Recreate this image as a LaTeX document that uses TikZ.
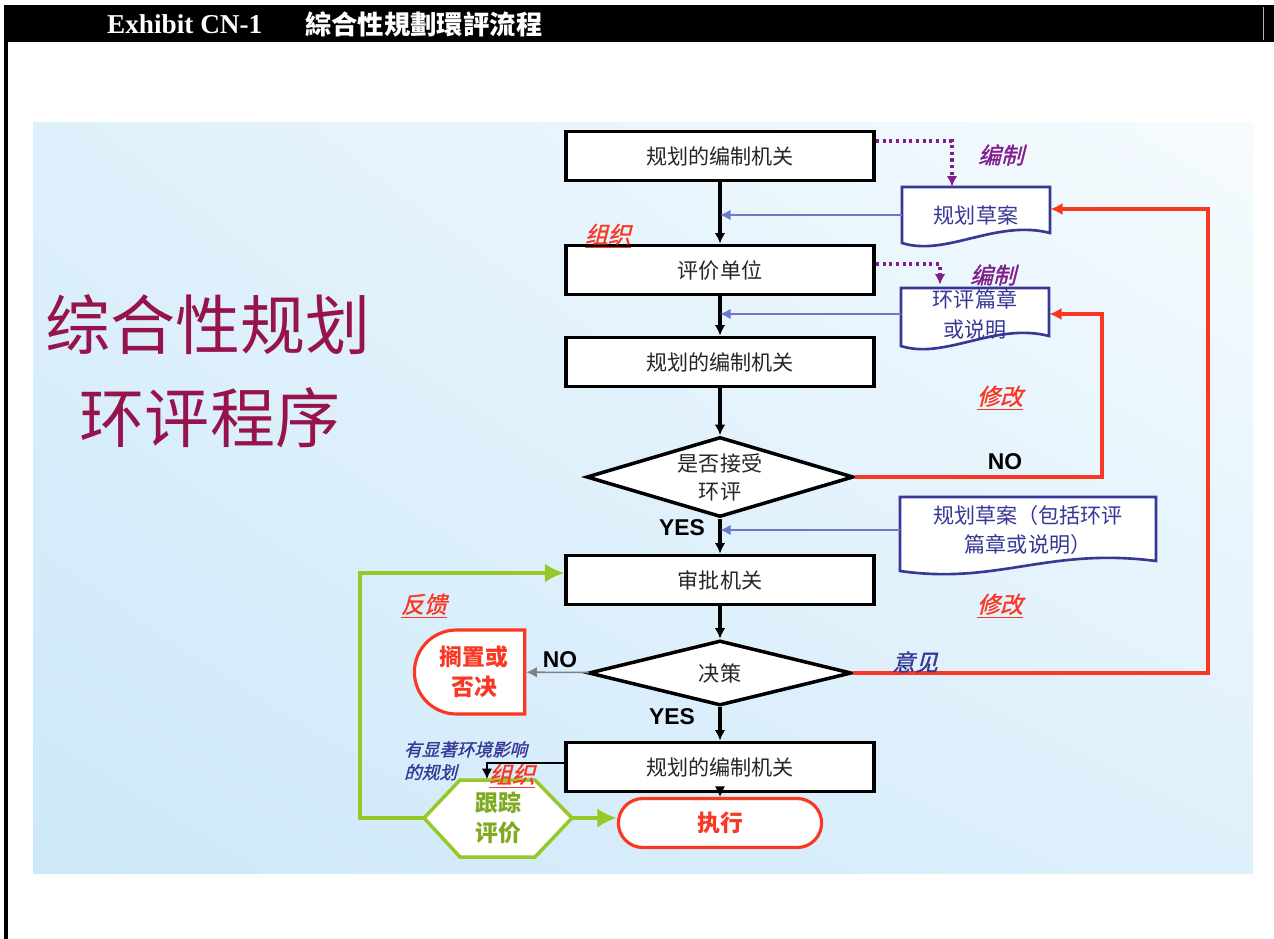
\documentclass[tikz,border=0pt]{standalone}
\usepackage{fontspec}
\setmainfont{Liberation Sans}
\newfontfamily\headfont{Liberation Serif}
\newfontfamily\cjk{Noto Sans CJK SC}
\newfontfamily\cjktrad{Noto Sans CJK TC}
\newfontfamily\cjkslant[FakeSlant=0.25,FakeBold=1.2]{Noto Sans CJK SC}
\usetikzlibrary{shapes.geometric,shapes.misc,arrows.meta,calc,shadings}

\definecolor{titlered}{RGB}{150,20,75}
\definecolor{docblue}{RGB}{55,55,150}
\definecolor{feedblue}{RGB}{110,120,200}
\definecolor{editred}{RGB}{250,55,35}
\definecolor{trackgreen}{RGB}{150,200,40}
\definecolor{draftpurple}{RGB}{130,30,140}
\definecolor{bgblue}{RGB}{205,232,249}
\definecolor{bgmid}{RGB}{222,240,251}
\definecolor{bgpale}{RGB}{246,251,254}

% centre x, centre y, half width, half height
\newcommand\wavydoc[4]{%
  \filldraw[docblue,fill=white,line width=1.5pt]
    (#1-#3,#2-#4) -- (#1+#3,#2-#4) -- (#1+#3,#2+#4-10)
    .. controls (#1+20,#2+#4-24) and (#1-30,#2+#4+14) .. (#1-#3,#2+#4) -- cycle;}

\begin{document}
\begin{tikzpicture}[x=0.02cm,y=-0.02cm,
    box/.style={draw,line width=2.2pt,fill=white,minimum width=6.16cm,minimum height=0.98cm,
      text=black!85,font=\cjk\fontsize{12}{14}\selectfont},
    choice/.style={diamond,draw,line width=2pt,fill=white,inner sep=0pt,align=center,
      text=black!85,font=\cjk\fontsize{12}{16}\selectfont},
    paper/.style={inner sep=0pt,align=center,text=docblue,font=\cjk\fontsize{12}{17}\selectfont},
    flow/.style={-{Latex[length=6pt,width=6pt]},line width=2pt},
    feed/.style={-{Latex[length=6pt,width=6pt]},feedblue,line width=1.1pt},
    drafting/.style={-{Latex[length=6pt,width=6pt]},draftpurple,line width=1.8pt,dotted},
    redo/.style={-{Latex[length=7pt,width=7pt]},editred,line width=2pt},
    backfeed/.style={-{Latex[length=11pt,width=11pt]},trackgreen,line width=2.4pt},
    note/.style={font=\cjkslant\fontsize{13}{15}\selectfont},
    answer/.style={font=\bfseries\fontsize{13}{15}\selectfont}]
  \useasboundingbox (0,0) rectangle (1274,939);

  % header
  \fill (4,5) rectangle (1274,42);
  \draw[gray!60] (1263,7) -- (1263,40);
  \draw[line width=2.2pt] (6,42) -- (6,939);
  \node[anchor=west,text=white,font=\headfont\bfseries\fontsize{15.5}{17}\selectfont] (exhibit) at (101,24) {Exhibit CN-1};
  \node[anchor=west,text=white,font=\cjktrad\bfseries\fontsize{15}{17}\selectfont] (headline) at (299,24) {綜合性規劃環評流程};

  \shade[upper left=bgmid,lower left=bgblue,upper right=bgpale,lower right=bgmid] (33,123) rectangle (1253,873);

  \node[text=titlered,font=\cjk\fontsize{37}{40}\selectfont] (title1) at (208,325) {综合性规划};
  \node[text=titlered,font=\cjk\fontsize{37}{40}\selectfont] (title2) at (210,418) {环评程序};

  % main column
  \node[box] (planner) at (720,156) {规划的编制机关};
  \node[box] (assessor) at (720,270) {评价单位};
  \node[box] (planner2) at (720,362) {规划的编制机关};
  \node[choice,minimum width=5.34cm,minimum height=1.6cm,aspect=3.3] (accept) at (720,477) {是否接受\\环评};
  \node[box] (approver) at (720,580) {审批机关};
  \node[choice,minimum width=5.26cm,minimum height=1.3cm,aspect=4] (decide) at (720,673) {决策};
  \node[box] (planner3) at (720,767) {规划的编制机关};
  \node[rounded rectangle,draw=editred,line width=1.8pt,fill=white,minimum width=4.3cm,minimum height=0.98cm,
    text=editred,font=\cjk\bfseries\fontsize{13}{15}\selectfont] (execute) at (720,823) {执行};

  \foreach \a/\b in {planner/assessor,assessor/planner2,planner2/accept,accept/approver,
      approver/decide,decide/planner3,planner3/execute}
    \draw[flow] (\a) -- (\b);

  % documents
  \wavydoc{976}{215}{74}{28}
  \node[paper,minimum width=2.96cm,minimum height=1.12cm] (draft) at (976,215) {规划草案};
  \wavydoc{975}{317}{74}{29}
  \node[paper,minimum width=2.96cm,minimum height=1.16cm] (chapter) at (975,314) {环评篇章\\或说明};
  \wavydoc{1028}{534}{128}{37}
  \node[paper,minimum width=5.12cm,minimum height=1.48cm] (fulldraft) at (1028,530) {规划草案（包括环评\\篇章或说明）};

  \draw[feed] (draft.west) -- (draft.west -| planner.south);
  \draw[feed] (chapter.west) -- (chapter.west -| assessor.south);
  \draw[feed] (fulldraft.west) -- (fulldraft.west -| accept.south);

  \draw[drafting] ($(planner.east)+(0,-15)$) -| ($(draft.north)+(-24,0)$);
  \draw[drafting] ($(assessor.east)+(0,-6)$) -| ($(chapter.north)+(-35,0)$);

  \coordinate (turn1) at (1102,480);
  \coordinate (turn2) at (1208,680);
  \draw[redo] (accept.east) -- (accept.east -| turn1) |- (chapter.east);
  \draw[redo] (decide.east) -- (decide.east -| turn2) |- ($(draft.east)+(0,-6)$);

  % left branch
  \node[rounded rectangle,rounded rectangle right arc=none,draw=editred,line width=1.8pt,fill=white,
    minimum width=2.44cm,minimum height=1.68cm,align=center,text=editred,
    font=\cjk\bfseries\fontsize{13}{17}\selectfont] (shelve) at (474,672) {搁置或\\否决};
  \draw[-{Latex[length=6pt,width=6pt]},gray,line width=0.9pt] (decide) -- (shelve);

  \filldraw[trackgreen,fill=white,line width=2pt] (424,818) -- (460,780) -- (535,780) -- (572,818)
    -- (535,857) -- (460,857) -- cycle;
  \node[minimum width=2.96cm,minimum height=1.54cm,align=center,text=trackgreen!85!black,
    font=\cjk\bfseries\fontsize{13}{17}\selectfont] (track) at (498,818) {跟踪\\评价};

  \coordinate (corner) at (360,573);
  \draw[backfeed] (track.west) -| (corner) -- (corner -| approver.west);
  \draw[backfeed] (track.east) -- (track.east -| execute.west);
  \draw[-{Latex[length=6pt,width=6pt]},line width=1.1pt] ($(planner3.west)+(0,-4)$) -| ($(track.north)+(-11,0)$);

  % labels
  \node[note,text=draftpurple] (compile1) at (1001,155) {编制};
  \node[note,text=draftpurple] (compile2) at (993,275) {编制};
  \node[note,text=editred] (organise1) at (608,236) {\underline{组织}};
  \node[note,text=editred] (revise1) at (1000,398) {\underline{修改}};
  \node[answer] (no1) at (1005,462) {NO};
  \node[answer] (yes1) at (682,528) {YES};
  \node[note,text=editred] (feedback) at (424,606) {\underline{反馈}};
  \node[answer] (no2) at (560,660) {NO};
  \node[note,text=editred] (revise2) at (1000,606) {\underline{修改}};
  \node[note,text=docblue] (opinion) at (915,662) {意见};
  \node[answer] (yes2) at (672,717) {YES};
  \node[note,text=docblue,font=\cjkslant\fontsize{10}{13}\selectfont,align=left,anchor=north west]
    (significant) at (398,735) {有显著环境影响\\的规划};
  \node[note,text=editred] (organise2) at (512,776) {\underline{组织}};
\end{tikzpicture}
\end{document}
